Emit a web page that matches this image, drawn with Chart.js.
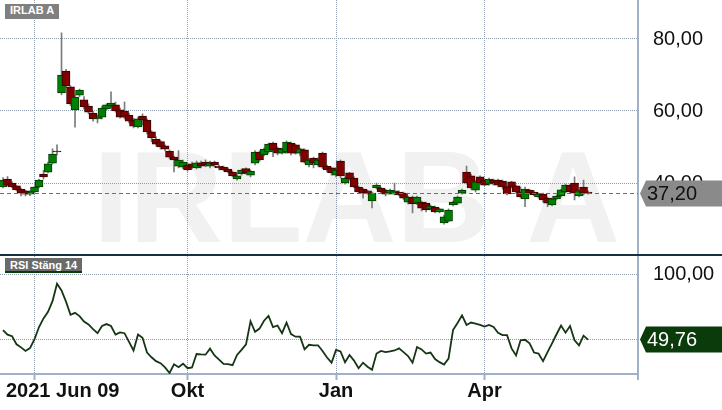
<!DOCTYPE html>
<html lang="sv">
<head>
  <meta charset="UTF-8">
  <title>IRLAB A</title>
  <script src="https://cdn.jsdelivr.net/npm/chart.js"></script>
  <style>
    body {
      margin: 0;
      background: #fff;
      font-family: "Liberation Sans", Arial, sans-serif;
    }
    #wrap {
      position: relative;
      width: 722px;
      height: 410px;
      overflow: hidden;
    }
    #pricePane {
      position: absolute;
      left: 0; top: 0;
      width: 722px; height: 254px;
    }
    #sep {
      position: absolute;
      left: 0; top: 254px;
      width: 722px; height: 2px;
      background: #17303f;
    }
    #rsiPane {
      position: absolute;
      left: 0; top: 256px;
      width: 722px; height: 154px;
    }
    .tag {
      position: absolute;
      left: 5px;
      height: 15px;
      line-height: 15px;
      padding: 0 5px;
      color: #fff;
      font: bold 11px "Liberation Sans", Arial, sans-serif;
      z-index: 2;
    }
  </style>
</head>
<body>
  <div id="wrap">
    <div id="pricePane"><canvas id="priceChart"></canvas></div>
    <div id="sep"></div>
    <div id="rsiPane"><canvas id="rsiChart"></canvas></div>
    <div class="tag" style="top:4px; background:#808080;">IRLAB A</div>
    <div class="tag" style="top:258px; height:13px; line-height:14px; background:#6a6a6a; border-bottom:2px solid #0b3a0b;">RSI Stäng 14</div>
  </div>

  <script>
    // month ticks (candle index where the label sits)
    const tickIdx = [7, 41, 74, 107];
    const tickLabels = ['2021 Jun 09', 'Okt', 'Jan', 'Apr'];
    const priceTicks = [40, 60, 80];
    const rsiTicks = [50, 100];

    // daily candles
    const opens = [
      38.9, 41.1, 40.0, 39.2, 38.3, 37.8, 36.9, 37.5, 38.9, 42.5,
      43.0, 45.5, 48.9, 65.0, 71.1, 66.7, 60.3, 64.4, 63.1, 61.4,
      59.4, 57.8, 58.3, 60.6, 61.4, 61.7, 60.3, 60.0, 58.9, 57.5,
      55.6, 58.6, 57.5, 54.2, 52.2, 51.5, 50.3, 48.9, 47.2, 44.7,
      44.4, 45.0, 45.3, 44.2, 45.6, 45.8, 44.7, 45.8, 44.7, 44.4,
      43.9, 43.0, 41.1, 42.5, 44.0, 42.2, 45.5, 48.6, 47.8, 48.6,
      51.1, 49.7, 48.3, 48.6, 51.1, 50.6, 48.3, 49.2, 45.0, 46.9,
      45.0, 48.3, 44.7, 44.2, 42.2, 46.1, 40.0, 42.8, 41.4, 38.9,
      38.3, 37.8, 35.0, 38.6, 38.6, 38.0, 37.2, 36.9, 37.5, 37.2,
      34.7, 36.1, 34.4, 34.7, 34.4, 32.8, 33.3, 32.0, 28.9, 29.4,
      33.9, 34.4, 37.2, 43.0, 42.0, 38.0, 41.7, 40.8, 39.7, 40.8,
      40.8, 40.5, 38.9, 40.3, 39.2, 37.5, 35.6, 38.0, 37.5, 36.1,
      36.9, 35.8, 33.9, 35.6, 36.4, 37.5, 39.4, 40.0, 36.4, 38.9,
      37.5
    ];
    const highs = [
      41.5, 41.8, 40.3, 39.4, 38.6, 38.0, 37.8, 39.2, 41.1, 43.5,
      45.8, 49.5, 50.6, 81.7, 71.6, 67.0, 64.4, 66.1, 64.0, 62.0,
      60.0, 58.9, 61.4, 62.0, 65.3, 62.5, 60.8, 62.5, 59.4, 58.0,
      58.3, 59.2, 57.8, 54.5, 52.8, 51.9, 50.6, 49.2, 47.5, 49.0,
      46.4, 45.5, 45.8, 46.1, 46.1, 46.4, 46.1, 46.1, 45.0, 44.7,
      44.2, 43.3, 42.5, 43.9, 44.2, 43.6, 49.0, 48.9, 49.7, 51.1,
      51.4, 50.0, 49.7, 51.7, 51.4, 50.8, 49.7, 49.5, 46.7, 47.2,
      46.9, 48.6, 45.0, 44.4, 44.2, 46.4, 41.7, 43.0, 41.7, 39.2,
      38.6, 38.0, 37.5, 40.0, 38.9, 38.3, 38.3, 40.0, 37.8, 37.5,
      36.4, 36.4, 36.4, 35.0, 34.7, 33.9, 33.6, 33.0, 31.1, 32.8,
      35.0, 36.4, 38.3, 44.7, 42.5, 40.8, 42.0, 41.1, 41.4, 41.1,
      41.1, 40.8, 39.2, 40.5, 39.4, 38.9, 38.9, 38.3, 37.8, 37.2,
      37.2, 36.1, 35.8, 36.7, 38.3, 39.7, 39.7, 41.7, 38.1, 40.8,
      37.8
    ];
    const lows = [
      38.6, 39.2, 38.6, 37.8, 36.4, 36.4, 36.5, 37.2, 38.6, 41.1,
      42.8, 45.3, 47.8, 64.5, 66.5, 61.5, 55.5, 64.0, 60.5, 59.2,
      57.2, 56.7, 57.8, 60.3, 61.0, 59.7, 58.0, 57.8, 56.7, 55.3,
      55.3, 56.1, 53.6, 51.5, 50.3, 49.4, 48.9, 46.7, 43.1, 44.2,
      44.0, 43.3, 43.9, 43.9, 44.2, 44.5, 44.2, 44.4, 43.6, 43.3,
      42.8, 41.7, 40.8, 42.2, 42.5, 41.7, 45.0, 46.0, 47.5, 48.3,
      47.3, 47.8, 48.0, 48.3, 47.8, 48.0, 47.5, 45.5, 44.5, 44.2,
      44.7, 44.0, 43.1, 42.2, 41.7, 41.4, 39.7, 40.8, 38.6, 37.2,
      35.8, 36.9, 33.1, 38.3, 37.2, 36.4, 36.9, 36.7, 36.4, 35.3,
      34.2, 31.7, 34.0, 32.2, 32.0, 32.5, 31.7, 31.7, 28.6, 29.2,
      33.6, 34.0, 36.9, 39.7, 38.3, 37.5, 39.7, 39.2, 39.4, 39.4,
      38.9, 38.3, 36.7, 38.6, 37.2, 35.8, 33.4, 36.9, 36.4, 35.8,
      34.7, 33.4, 33.6, 35.3, 36.1, 37.2, 37.2, 35.3, 36.1, 36.7,
      36.9
    ];
    const closes = [
      40.8, 39.4, 38.9, 38.1, 37.2, 36.9, 37.5, 38.9, 40.8, 41.7,
      45.3, 48.0, 48.6, 70.0, 67.0, 62.0, 63.9, 65.8, 61.1, 59.7,
      57.8, 58.3, 60.8, 61.7, 62.2, 60.0, 58.3, 58.3, 57.2, 55.8,
      57.8, 57.5, 54.2, 52.5, 50.8, 50.0, 49.4, 47.2, 46.4, 46.4,
      45.8, 43.6, 44.4, 45.6, 44.7, 45.0, 45.6, 45.0, 44.2, 43.6,
      43.1, 42.0, 42.0, 43.6, 42.8, 43.3, 48.6, 46.4, 49.4, 50.8,
      49.2, 48.3, 49.4, 51.4, 48.3, 48.3, 49.5, 45.8, 46.4, 45.6,
      46.4, 44.4, 43.6, 42.8, 43.6, 42.0, 41.4, 41.1, 38.9, 37.5,
      37.2, 37.2, 37.2, 39.4, 37.5, 36.9, 38.0, 37.8, 36.7, 35.8,
      36.1, 34.2, 36.1, 33.0, 32.5, 33.6, 32.0, 32.8, 30.6, 32.5,
      34.7, 36.1, 38.0, 40.0, 38.6, 40.3, 40.0, 39.4, 41.1, 40.0,
      39.4, 38.9, 37.0, 38.9, 37.5, 36.1, 38.3, 37.2, 36.7, 37.0,
      35.3, 34.4, 35.6, 36.4, 38.1, 39.4, 37.5, 37.2, 37.8, 37.2,
      37.2
    ];
    const rsi = [
      57.1, 53.6, 52.4, 46.1, 43.7, 40.9, 43.1, 50.0, 59.5, 66.2,
      71.3, 79.6, 93.2, 87.9, 79.2, 69.0, 70.5, 68.0, 63.7, 61.5,
      57.9, 54.7, 60.3, 61.8, 60.3, 53.6, 55.3, 54.7, 48.0, 41.3,
      53.7, 51.2, 39.7, 36.0, 33.0, 31.4, 28.1, 23.8, 30.5, 28.3,
      31.0, 27.5, 28.1, 38.5, 38.2, 38.0, 42.7, 37.4, 34.2, 30.8,
      30.6, 29.8, 37.8, 41.7, 46.0, 64.0, 55.8, 58.3, 64.4, 68.2,
      59.5, 60.7, 54.7, 63.0, 54.0, 52.0, 52.0, 42.1, 45.7, 45.3,
      45.3, 40.9, 35.8, 31.8, 41.7, 40.5, 32.1, 37.8, 33.4, 27.5,
      31.8, 28.7, 26.3, 38.9, 40.9, 40.0, 40.5, 41.3, 42.9, 40.0,
      37.0, 31.8, 44.0, 42.1, 38.9, 39.7, 34.6, 32.2, 30.3, 35.0,
      57.1, 62.6, 68.6, 61.1, 63.0, 62.2, 61.1, 59.9, 61.1, 59.5,
      55.1, 53.2, 53.2, 42.9, 37.4, 49.2, 49.6, 46.8, 39.7, 38.9,
      33.0, 40.0, 46.8, 53.9, 60.7, 55.1, 60.3, 49.2, 45.2, 52.8,
      49.76
    ];

    const FONT = '"Liberation Sans", Arial, sans-serif';
    const AXIS = '#a0b0c8';
    const GRID = '#8d9bad';
    const fmt = v => v.toFixed(2).replace('.', ',');

    const lastClose = closes[closes.length - 1];
    const lastRsi = rsi[rsi.length - 1];

    const wickData = highs.map((h, i) => ({ x: i, y: [lows[i], h] }));
    const bodyData = opens.map((o, i) => ({ x: i, y: [o, closes[i]] }));
    const bodyFill = opens.map((o, i) => closes[i] >= o ? '#008000' : '#800000');
    const bodyLine = opens.map((o, i) => closes[i] >= o ? '#003800' : '#380000');

    function xScale(extra) {
      return Object.assign({
        type: 'linear',
        min: -0.67,
        max: 141.1,
        offset: false,
        afterBuildTicks: s => { s.ticks = tickIdx.map(v => ({ value: v })); },
        ticks: { display: false },
        grid: { color: GRID, lineWidth: 1, offset: false, drawTicks: false },
        border: { display: false, dash: [1, 1] }
      }, extra);
    }

    function yScale(min, max, ticks) {
      return {
        position: 'right',
        min: min,
        max: max,
        afterBuildTicks: s => { s.ticks = ticks.map(v => ({ value: v })); },
        afterFit: s => { s.width = 84; s.paddingTop = 0; s.paddingBottom = 0; },
        ticks: {
          padding: 15,
          color: '#111',
          font: { family: FONT, size: 20 },
          callback: v => fmt(v)
        },
        grid: { color: GRID, lineWidth: 1, drawTicks: false },
        border: { color: AXIS, width: 2, dash: [1, 1] }
      };
    }

    function tagBox(ctx, y, text, fill, color) {
      ctx.save();
      ctx.fillStyle = fill;
      ctx.beginPath();
      ctx.moveTo(640, y);
      ctx.lineTo(646, y - 13);
      ctx.lineTo(722, y - 13);
      ctx.lineTo(722, y + 13);
      ctx.lineTo(646, y + 13);
      ctx.closePath();
      ctx.fill();
      ctx.fillStyle = color;
      ctx.font = '20px ' + FONT;
      ctx.textBaseline = 'middle';
      ctx.fillText(text, 647, y + 1);
      ctx.restore();
    }

    const priceDecor = {
      id: 'priceDecor',
      beforeDraw(chart) {
        const ctx = chart.ctx;
        ctx.save();
        ctx.fillStyle = '#f1f1f1';
        ctx.font = 'bold 130px ' + FONT;
        ctx.textBaseline = 'alphabetic';
        ctx.fillText('IRLAB A', 93, 242);
        ctx.restore();
      },
      afterDraw(chart) {
        const { ctx, chartArea, scales } = chart;
        const y = Math.round(scales.y.getPixelForValue(lastClose)) + 0.5;
        ctx.save();
        ctx.strokeStyle = '#6e6e6e';
        ctx.lineWidth = 1;
        ctx.setLineDash([4, 3]);
        ctx.beginPath();
        ctx.moveTo(chartArea.left, y);
        ctx.lineTo(chartArea.right, y);
        ctx.stroke();
        ctx.restore();
        tagBox(ctx, y, fmt(lastClose), '#8a8a8a', '#111');
      }
    };

    const rsiDecor = {
      id: 'rsiDecor',
      afterDraw(chart) {
        const { ctx, chartArea, scales } = chart;
        ctx.save();
        ctx.strokeStyle = AXIS;
        ctx.lineWidth = 2;
        ctx.beginPath();
        ctx.moveTo(chartArea.right, chartArea.bottom);
        ctx.lineTo(chartArea.right, chartArea.bottom + 6);
        ctx.stroke();
        ctx.font = 'bold 20px ' + FONT;
        ctx.fillStyle = '#111';
        ctx.textBaseline = 'middle';
        tickIdx.forEach((v, k) => {
          const px = scales.x.getPixelForValue(v);
          const w = ctx.measureText(tickLabels[k]).width;
          ctx.fillText(tickLabels[k], Math.max(6, px - w / 2), chartArea.bottom + 17);
        });
        ctx.restore();
        tagBox(ctx, scales.y.getPixelForValue(lastRsi), fmt(lastRsi), '#0b3a0b', '#fff');
      }
    };

    new Chart(document.getElementById('priceChart'), {
      type: 'bar',
      data: {
        datasets: [
          {
            data: wickData,
            backgroundColor: '#7b7b7b',
            barThickness: 1,
            grouped: false,
            order: 2
          },
          {
            data: bodyData,
            backgroundColor: bodyFill,
            borderColor: bodyLine,
            borderWidth: 1,
            borderSkipped: false,
            barThickness: 8,
            grouped: false,
            order: 1
          }
        ]
      },
      options: {
        responsive: true,
        maintainAspectRatio: false,
        animation: false,
        layout: { padding: 0, autoPadding: false },
        plugins: { legend: { display: false }, tooltip: { enabled: false } },
        scales: {
          x: xScale({ afterFit: s => { s.height = 0; s.paddingLeft = 0; s.paddingRight = 0; } }),
          y: yScale(20.28, 90.83, priceTicks)
        }
      },
      plugins: [priceDecor]
    });

    new Chart(document.getElementById('rsiChart'), {
      type: 'line',
      data: {
        datasets: [{
          data: rsi.map((v, i) => ({ x: i, y: v })),
          borderColor: '#153515',
          borderWidth: 1.8,
          pointRadius: 0,
          tension: 0
        }]
      },
      options: {
        responsive: true,
        maintainAspectRatio: false,
        animation: false,
        layout: { padding: 0, autoPadding: false },
        plugins: { legend: { display: false }, tooltip: { enabled: false } },
        scales: {
          x: xScale({
            afterFit: s => { s.height = 36; s.paddingLeft = 0; s.paddingRight = 0; },
            grid: { color: GRID, lineWidth: 1, offset: false, drawTicks: true, tickLength: 6, tickColor: AXIS, tickWidth: 2 },
            border: { display: true, color: AXIS, width: 2, dash: [1, 1] }
          }),
          y: yScale(23, 114.7, rsiTicks)
        }
      },
      plugins: [rsiDecor]
    });
  </script>
</body>
</html>
